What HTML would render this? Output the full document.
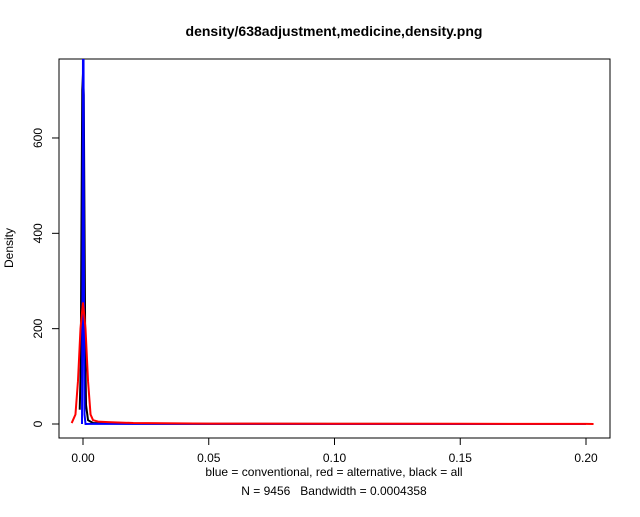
<!DOCTYPE html>
<html><head><meta charset="utf-8"><style>
body{margin:0;background:#fff;}
svg text{font-family:"Liberation Sans",sans-serif;white-space:pre;}
</style></head><body>
<svg id="chart" width="640" height="512" viewBox="0 0 640 512">
<defs><clipPath id="pc"><rect x="59" y="59" width="551" height="379"/></clipPath></defs>
<text x="334" y="36" text-anchor="middle" font-size="14" font-weight="bold">density/638adjustment,medicine,density.png</text>
<rect x="59" y="59" width="551" height="379" fill="none" stroke="#000"/>
<g id="xaxis"></g>
<g id="yaxis"></g>
<text x="334" y="476" text-anchor="middle" font-size="12">blue = conventional, red = alternative, black = all</text>
<text x="334" y="495" text-anchor="middle" font-size="12" xml:space="preserve">N = 9456   Bandwidth = 0.0004358</text>
<text x="0" y="0" transform="translate(13,248) rotate(-90)" text-anchor="middle" font-size="12">Density</text>
<g id="series" clip-path="url(#pc)"></g>
</svg>
<script>
const xTicks=[0,0.05,0.10,0.15,0.20];
const xTickLabels=["0.00","0.05","0.10","0.15","0.20"];
const yTicks=[0,200,400,600];
const yTickLabels=["0","200","400","600"];
const allX=[-0.0013,-0.0009,-0.0006,-0.0003,0,0.0003,0.0006,0.0009,0.0012,0.002,0.004,0.01,0.05,0.1,0.15,0.2];
const allY=[30,120,420,700,735,690,420,150,40,8,2,1,0.3,0.2,0.1,0.1];
const blueX=[-0.0004,-0.0002,0,0.0002,0.0004,0.0006,0.001,0.005,0.02,0.1,0.2];
const blueY=[0,300,800,800,250,20,0,0.5,0.3,0.1,0.1];
const redX=[-0.0045,-0.003,-0.002,-0.001,0,0.001,0.002,0.003,0.004,0.006,0.01,0.02,0.05,0.1,0.15,0.2,0.203];
const redY=[2,20,90,200,255,200,90,20,8,5,4,2,0.8,0.5,0.4,0.3,0.1];
const X=v=>83+v*2515, Y=d=>424-d*0.4767;
const NS="http://www.w3.org/2000/svg";
function mk(t,a,p){const e=document.createElementNS(NS,t);for(const k in a)e.setAttribute(k,a[k]);p.appendChild(e);return e;}
const xa=document.getElementById('xaxis'),ya=document.getElementById('yaxis'),sg=document.getElementById('series');
mk('line',{x1:X(xTicks[0]),x2:X(xTicks[xTicks.length-1]),y1:438,y2:438,stroke:'#000'},xa);
xTicks.forEach((v,i)=>{
 const l=mk('line',{x1:X(v),x2:X(v),y1:438,y2:445,stroke:'#000'},xa);
 
 
 const t=mk('text',{x:X(v),y:462,'text-anchor':'middle','font-size':12},xa);t.textContent=xTickLabels[i];
 
 
});
mk('line',{x1:59,x2:59,y1:Y(yTicks[0]),y2:Y(yTicks[yTicks.length-1]),stroke:'#000'},ya);
yTicks.forEach((v,i)=>{
 const l=mk('line',{x1:52,x2:59,y1:Y(v),y2:Y(v),stroke:'#000'},ya);
 
 
 const t=mk('text',{x:0,y:0,transform:`translate(42,${Y(v)}) rotate(-90)`,'text-anchor':'middle','font-size':12},ya);t.textContent=yTickLabels[i];
 
 
});
function line(xs,ys,c,name){
 const p=mk('polyline',{points:xs.map((x,i)=>X(x)+','+Y(ys[i])).join(' '),fill:'none',stroke:c,'stroke-width':2},sg);
 
 
}
line(allX,allY,'#000','density-all');
line(blueX,blueY,'#0000ff','density-conventional');
line(redX,redY,'#ff0000','density-alternative');
</script>
</body></html>
